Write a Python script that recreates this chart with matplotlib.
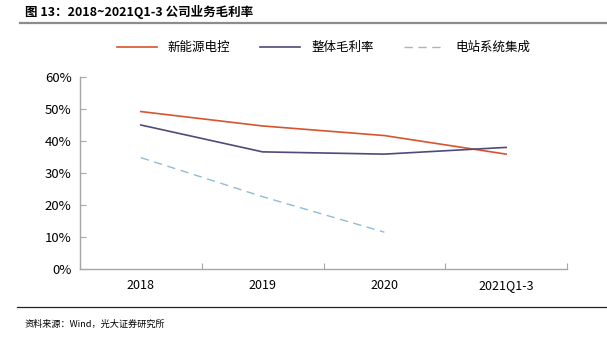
import matplotlib.pyplot as plt
from matplotlib.lines import Line2D
from matplotlib.ticker import FuncFormatter, MultipleLocator

plt.rcParams['font.family'] = ['Noto Sans CJK SC', 'DejaVu Sans']

# gross margin by business line
periods = ['2018', '2019', '2020', '2021Q1-3']
new_energy_ctrl = [49.2, 44.7, 41.7, 35.9]
overall_margin = [45.0, 36.6, 35.9, 38.0]
plant_integration = [34.8, 22.6, 11.5]

fig = plt.figure(figsize=(6.07, 3.40), dpi=100)
ax = fig.add_axes([80 / 607, 1 - 269 / 340, 487 / 607, 192 / 340])

x = range(len(periods))
ax.plot(x, new_energy_ctrl, color='#D8542E', linewidth=1.2, label='新能源电控')
ax.plot(x, overall_margin, color='#4F4A7A', linewidth=1.2, label='整体毛利率')
ax.plot(range(len(plant_integration)), plant_integration, color='#8FBCD6',
        linewidth=1.0, linestyle=(0, (6, 4)), label='电站系统集成')

ax.set_xlim(-0.5, len(periods) - 0.5)
ax.set_ylim(0, 60)
ax.yaxis.set_major_locator(MultipleLocator(10))
ax.yaxis.set_major_formatter(FuncFormatter(lambda v, _: f'{v:.0f}%'))

# category labels centred, tick marks on the boundaries
ax.set_xticks([i - 0.5 for i in range(len(periods) + 1)])
ax.set_xticklabels([])
ax.set_xticks(list(x), minor=True)
ax.set_xticklabels(periods, minor=True)
ax.tick_params(axis='x', which='minor', length=0, pad=7, labelsize=9)
ax.tick_params(axis='x', which='major', length=4, direction='in', color='#A6A6A6')
ax.tick_params(axis='y', length=4, direction='in', color='#A6A6A6', labelsize=9.5, pad=6)

for side in ('top', 'right'):
    ax.spines[side].set_visible(False)
for side in ('left', 'bottom'):
    ax.spines[side].set_color('#A6A6A6')
    ax.spines[side].set_linewidth(1.0)

ax.legend(loc='upper center', bbox_to_anchor=(0.5, 1.245), ncol=3, frameon=False,
          fontsize=9, handlelength=3.2, columnspacing=2.4, handletextpad=0.9)

fig.text(25 / 607, 1 - 12 / 340, '图 13：2018~2021Q1-3 公司业务毛利率',
         fontsize=9, fontweight='bold', va='center', ha='left')
fig.add_artist(Line2D([20 / 607, 1.0], [1 - 22.5 / 340] * 2, color='#8C8C8C',
                      linewidth=1.6, transform=fig.transFigure))
fig.add_artist(Line2D([17 / 607, 1.0], [1 - 307 / 340] * 2, color='#222222',
                      linewidth=0.9, transform=fig.transFigure))
fig.text(25 / 607, 1 - 324 / 340, '资料来源：Wind，光大证券研究所',
         fontsize=6.6, va='center', ha='left')

fig.savefig('out.png', dpi=100)
